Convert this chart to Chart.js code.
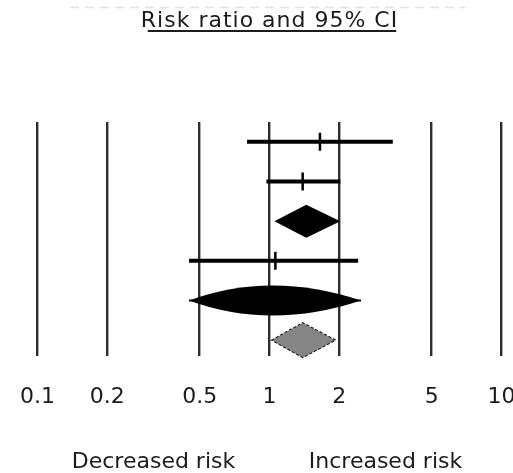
<!DOCTYPE html>
<html>
<head>
<meta charset="utf-8">
<script src="https://cdn.jsdelivr.net/npm/chart.js@4/dist/chart.umd.min.js"></script>
<style>
  html, body { margin: 0; padding: 0; background: #fff; }
  #wrap { width: 513px; height: 473px; }
</style>
</head>
<body>
<div id="wrap"><canvas id="c" width="513" height="473"></canvas></div>
<script>
// Axis ticks (log scale)
const tickValues = [0.1, 0.2, 0.5, 1, 2, 5, 10];
const tickLabels = ['0.1', '0.2', '0.5', '1', '2', '5', '10'];

// Individual studies: point estimate and 95% CI, with their row number
const studyRows = [1, 2, 4];
const studyEst  = [1.65, 1.39, 1.06];
const studyLow  = [0.80, 0.97, 0.45];
const studyHigh = [3.40, 2.02, 2.41];

// Pooled estimates drawn as diamonds / lens
const summaryRows = [3, 5, 6];
const summaryEst  = [1.44, 1.01, 1.39];
const summaryLow  = [1.05, 0.45, 1.02];
const summaryHigh = [2.02, 2.48, 1.93];

const titleText = 'Risk ratio and 95% CI';
const sideLabels = ['Decreased risk', 'Increased risk'];

const FONT = '"DejaVu Sans", Verdana, sans-serif';
const INK = '#1c1c1c';

// CI line datasets, one per study
const ciDatasets = studyRows.map((r, i) => ({
  type: 'line',
  data: [{ x: studyLow[i], y: r }, { x: studyHigh[i], y: r }],
  borderColor: '#000',
  borderWidth: 4,
  pointRadius: 0,
  fill: false,
  order: 2
}));

// Vertical tick at each point estimate
const estDataset = {
  type: 'scatter',
  data: studyRows.map((r, i) => ({ x: studyEst[i], y: r })),
  pointStyle: 'line',
  rotation: 90,
  radius: 9,
  borderColor: '#000',
  borderWidth: 2.5,
  order: 1
};

// Summary shapes: black diamond, black lens with line, grey dashed diamond
const summaryStyles = [
  { shape: 'diamond', half: 16.5, fill: '#000', stroke: null },
  { shape: 'lens', half: 15, fill: '#000', stroke: null },
  { shape: 'diamond', half: 17.5, fill: '#858585', stroke: '#222', dash: [3, 2] }
];

const summaryPlugin = {
  id: 'summaryShapes',
  afterDatasetsDraw(chart) {
    const { ctx, scales: { x, y } } = chart;
    summaryRows.forEach((r, i) => {
      const st = summaryStyles[i];
      const yc = y.getPixelForValue(r);
      const xl = x.getPixelForValue(summaryLow[i]);
      const xr = x.getPixelForValue(summaryHigh[i]);
      const xc = x.getPixelForValue(summaryEst[i]);
      ctx.save();
      if (st.shape === 'diamond') {
        ctx.beginPath();
        ctx.moveTo(xl, yc);
        ctx.lineTo(xc, yc - st.half);
        ctx.lineTo(xr, yc);
        ctx.lineTo(xc, yc + st.half);
        ctx.closePath();
        ctx.fillStyle = st.fill;
        ctx.fill();
        if (st.stroke) {
          ctx.setLineDash(st.dash || []);
          ctx.strokeStyle = st.stroke;
          ctx.lineWidth = 1.2;
          ctx.stroke();
        }
      } else {
        // lens: parabolic top and bottom edges meeting at the CI limits
        ctx.beginPath();
        ctx.moveTo(xl, yc);
        ctx.quadraticCurveTo(xc, yc - 2 * st.half, xr, yc);
        ctx.quadraticCurveTo(xc, yc + 2 * st.half, xl, yc);
        ctx.closePath();
        ctx.fillStyle = st.fill;
        ctx.fill();
        ctx.beginPath();
        ctx.moveTo(xl, yc);
        ctx.lineTo(xr, yc);
        ctx.strokeStyle = '#000';
        ctx.lineWidth = 2;
        ctx.stroke();
      }
      ctx.restore();
    });
  }
};

const textPlugin = {
  id: 'texts',
  afterDraw(chart) {
    const { ctx, chartArea, scales: { x } } = chart;
    ctx.save();
    // faint dashed remnant line at the very top
    ctx.strokeStyle = '#e2e2e2';
    ctx.lineWidth = 1.5;
    ctx.setLineDash([9, 6]);
    ctx.beginPath();
    ctx.moveTo(70, 7.5);
    ctx.lineTo(465, 7.5);
    ctx.stroke();
    ctx.setLineDash([]);

    // underlined title
    const cx = (chartArea.left + chartArea.right) / 2;
    ctx.font = '22px ' + FONT;
    ctx.letterSpacing = '1px';
    ctx.fillStyle = INK;
    ctx.textAlign = 'center';
    ctx.textBaseline = 'alphabetic';
    ctx.fillText(titleText, cx, 27);
    const w = ctx.measureText(titleText).width;
    ctx.strokeStyle = INK;
    ctx.lineWidth = 2;
    ctx.beginPath();
    ctx.moveTo(cx - w / 2 + 7, 31);
    ctx.lineTo(cx + w / 2 - 2, 31);
    ctx.stroke();

    // direction labels under each half of the axis
    ctx.letterSpacing = '0px';
    ctx.font = '22px ' + FONT;
    const min = x.min, max = x.max;
    ctx.fillText(sideLabels[0], x.getPixelForValue(Math.sqrt(min * 1)), 468);
    ctx.fillText(sideLabels[1], x.getPixelForValue(Math.sqrt(1 * max)), 468);
    ctx.restore();
  }
};

new Chart(document.getElementById('c'), {
  data: { datasets: [...ciDatasets, estDataset] },
  options: {
    responsive: false,
    animation: false,
    devicePixelRatio: 1,
    layout: { padding: { left: 37.5, right: 9, top: 122, bottom: 0 } },
    plugins: { legend: { display: false }, tooltip: { enabled: false }, title: { display: false } },
    scales: {
      x: {
        type: 'logarithmic',
        min: 0.1,
        max: 10,
        afterBuildTicks(s) { s.ticks = tickValues.map(v => ({ value: v })); },
        afterFit(s) {
          // let the last tick label run off the canvas edge instead of shrinking the plot
          s.paddingLeft = 0;
          s.paddingRight = 0;
          s.height = 117;
          s.getPadding = () => ({ left: 0, top: 0, right: 0, bottom: 0 });
        },
        ticks: {
          autoSkip: false,
          maxRotation: 0,
          padding: 28,
          color: INK,
          font: { family: FONT, size: 22 },
          callback: (v, i) => tickLabels[i]
        },
        grid: { color: '#2e2e2e', lineWidth: 2.4, drawTicks: false },
        border: { display: false }
      },
      y: {
        type: 'linear',
        min: 0.5,
        max: 6.4,
        reverse: true,
        display: false
      }
    }
  },
  plugins: [summaryPlugin, textPlugin]
});
</script>
</body>
</html>
